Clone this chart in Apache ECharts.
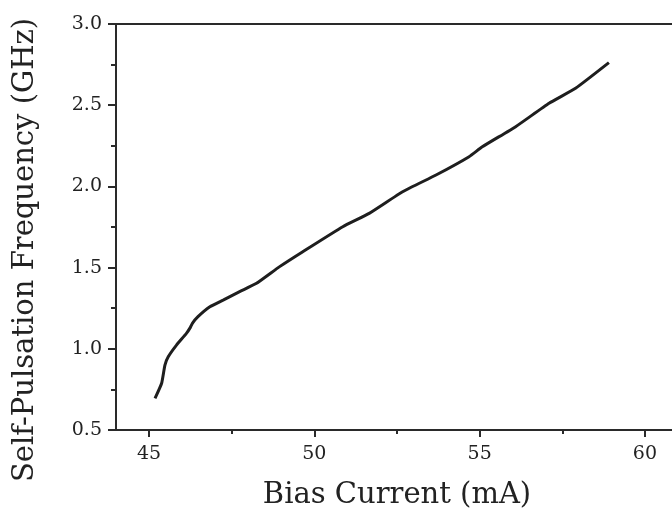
<!DOCTYPE html>
<html>
<head>
<meta charset="utf-8">
<script src="https://cdn.jsdelivr.net/npm/echarts@6/dist/echarts.min.js"></script>
<style>html,body{margin:0;padding:0;background:#fff}#c{width:672px;height:510px}</style>
</head>
<body>
<div id="c"></div>
<script>
const biasCurrent = [45.18,45.38,45.48,45.58,45.83,46.13,46.25,46.31,46.48,46.84,47.24,47.74,48.25,48.95,49.65,50.86,51.66,52.67,53.68,54.68,55.08,56.09,57.10,57.90,58.91];
const frequency   = [0.695,0.788,0.900,0.951,1.023,1.095,1.132,1.157,1.198,1.259,1.300,1.352,1.403,1.506,1.598,1.752,1.834,1.967,2.070,2.183,2.244,2.368,2.512,2.604,2.762];
const xMajorTicks = [45,50,55,60];
const xMinorTicks = [47.5,52.5,57.5];

const font = 'DejaVu Serif';
const axisColor = '#2a2a2a';
const chart = echarts.init(document.getElementById('c'));
chart.setOption({
  animation:false,
  backgroundColor:'#fff',
  grid:{left:116, top:24, right:-6, bottom:80, containLabel:false, outerBoundsMode:'none'},
  xAxis:[
    {type:'value', min:44, max:61, position:'bottom',
     name:'Bias Current (mA)', nameLocation:'middle', nameGap:51,
     nameTextStyle:{fontFamily:font, fontSize:29, color:'#222'},
     axisLine:{lineStyle:{color:axisColor, width:2}},
     axisTick:{show:true, inside:false, length:7, customValues:xMajorTicks, lineStyle:{color:axisColor, width:2}},
     axisLabel:{customValues:xMajorTicks, fontFamily:font, fontSize:19, color:'#222', margin:15},
     splitLine:{show:false}},
    {type:'value', min:44, max:61, position:'bottom', gridIndex:0,
     axisLine:{show:false},
     axisTick:{show:true, length:4, customValues:xMinorTicks, lineStyle:{color:axisColor, width:2}},
     axisLabel:{show:false}, splitLine:{show:false}},
    {type:'value', min:44, max:61, position:'top',
     axisLine:{show:true, lineStyle:{color:axisColor, width:2}},
     axisTick:{show:false}, axisLabel:{show:false}, splitLine:{show:false}}
  ],
  yAxis:{type:'value', min:0.5, max:3.0, interval:0.5,
    name:'Self-Pulsation Frequency (GHz)', nameLocation:'middle', nameGap:76,
    nameTextStyle:{fontFamily:font, fontSize:29, color:'#222', padding:[0,46,0,0]},
    axisLine:{show:true, lineStyle:{color:axisColor, width:2}},
    axisTick:{show:true, length:8, lineStyle:{color:axisColor, width:2}},
    minorTick:{show:true, splitNumber:2, length:5, lineStyle:{color:axisColor, width:2}},
    axisLabel:{fontFamily:font, fontSize:19, color:'#222', margin:14, formatter:v=>v.toFixed(1)},
    splitLine:{show:false}},
  series:[{type:'line', xAxisIndex:0, data:biasCurrent.map((x,i)=>[x,frequency[i]]),
    showSymbol:false, smooth:0.15, lineStyle:{color:'#1e1e1e', width:3}}]
});
</script>
</body>
</html>
